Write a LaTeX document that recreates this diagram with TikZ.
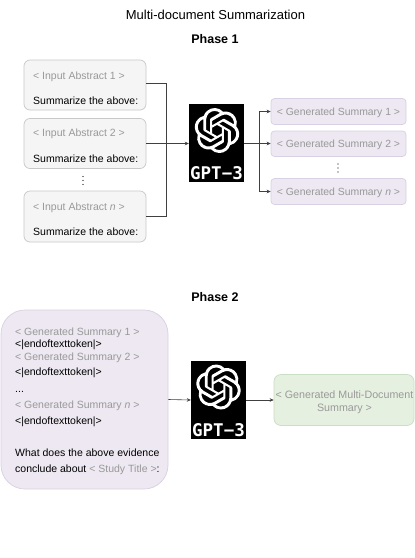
\documentclass[tikz,border=0pt]{standalone}
\usepackage{fontspec}
\setmainfont{Liberation Sans}
\newfontfamily\gptfont{DejaVu Sans Mono}
\usetikzlibrary{arrows.meta,calc,svg.path}
\definecolor{txtgrey}{HTML}{999999}
\definecolor{inputfill}{HTML}{F5F5F5}
\definecolor{inputdraw}{HTML}{C8C8C8}
\definecolor{purpfill}{HTML}{EDE8F1}
\definecolor{purpdraw}{HTML}{D9D0E3}
\definecolor{greenfill}{HTML}{E6F0E0}
\definecolor{greendraw}{HTML}{C9DEC2}
\tikzset{
  inbox/.style={draw=inputdraw,fill=inputfill,rounded corners=6pt,line width=0.7pt,inner sep=0pt},
  sumbox/.style={draw=purpdraw,fill=purpfill,rounded corners=3.5pt,line width=0.7pt,inner sep=0pt},
  bigbox/.style={draw=purpdraw,fill=purpfill,rounded corners=24pt,line width=0.7pt,inner sep=0pt},
  greenbox/.style={draw=greendraw,fill=greenfill,rounded corners=7pt,line width=0.7pt,inner sep=0pt},
  gptbox/.style={fill=black,inner sep=0pt},
  ltxt/.style={anchor=base west,inner sep=0pt,font=\fontsize{10.5}{12}\selectfont},
  gtxt/.style={ltxt,text=txtgrey},
  ctxt/.style={anchor=base,inner sep=0pt,text=txtgrey,font=\fontsize{10.4}{12}\selectfont},
  head/.style={anchor=base,inner sep=0pt,font=\bfseries\fontsize{12.5}{14}\selectfont},
  gpttxt/.style={anchor=base,inner sep=0pt,text=white,font=\gptfont\bfseries\fontsize{17.5}{18}\selectfont},
  conn/.style={draw=black!75,line width=0.6pt},
  arr/.style={conn,-{Stealth[length=4pt,width=3.6pt]}},
  gptlogo/.pic={
    \fill[white] svg {M 22.2819 9.8211 a 5.9847 5.9847 0 0 0 -0.5157 -4.9108 a 6.0462 6.0462 0 0 0 -6.5098 -2.9 A 6.0651 6.0651 0 0 0 4.9807 4.1818 a 5.9847 5.9847 0 0 0 -3.9977 2.9 a 6.0462 6.0462 0 0 0 0.7427 7.0966 a 5.98 5.98 0 0 0 0.511 4.9107 a 6.051 6.051 0 0 0 6.5146 2.9001 A 5.9847 5.9847 0 0 0 13.2599 24 a 6.0557 6.0557 0 0 0 5.7718 -4.2058 a 5.9894 5.9894 0 0 0 3.9977 -2.9001 a 6.0557 6.0557 0 0 0 -0.7475 -7.0729 z
    M 13.2599 22.4292 a 4.4755 4.4755 0 0 1 -2.8764 -1.0408 l 0.1419 -0.0804 l 4.7783 -2.7582 a 0.7948 0.7948 0 0 0 0.3927 -0.6813 v -6.7369 l 2.02 1.1686 l 0.038 0.052 v 5.5826 a 4.504 4.504 0 0 1 -4.4945 4.4944 z
    M 3.5992 18.3038 a 4.4708 4.4708 0 0 1 -0.5346 -3.0137 l 0.142 0.0852 l 4.783 2.7582 a 0.7712 0.7712 0 0 0 0.7806 0 l 5.8428 -3.3685 v 2.3324 l -0.0332 0.0615 L 9.74 19.9502 a 4.4992 4.4992 0 0 1 -6.1408 -1.6464 z
    M 2.3408 7.8956 a 4.485 4.485 0 0 1 2.3655 -1.9728 V 11.6 a 0.7664 0.7664 0 0 0 0.3879 0.6765 l 5.8144 3.3543 l -2.0201 1.1685 l -0.071 0 l -4.8303 -2.7865 A 4.504 4.504 0 0 1 2.3408 7.8956 z
    M 18.9371 11.7514 L 13.1038 8.364 L 15.1192 7.2 l 0.071 0 l 4.8303 2.7913 a 4.4944 4.4944 0 0 1 -0.6765 8.1042 v -5.6772 a 0.79 0.79 0 0 0 -0.407 -0.667 z
    M 20.9478 8.7283 l -0.142 -0.0852 l -4.7735 -2.7818 a 0.7759 0.7759 0 0 0 -0.7854 0 L 9.409 9.2297 V 6.8974 l 0.0284 -0.0615 l 4.8303 -2.7866 a 4.4992 4.4992 0 0 1 6.6802 4.66 z
    M 8.3065 12.863 l -2.02 -1.1638 l -0.038 -0.0567 V 6.0742 a 4.4992 4.4992 0 0 1 7.3757 -3.4537 l -0.142 0.0805 L 8.704 5.459 a 0.7948 0.7948 0 0 0 -0.3927 0.6813 z
    M 9.4041 10.4976 l 2.602 -1.4998 l 2.6069 1.4998 v 2.9994 l -2.5974 1.4997 l -2.6067 -1.4997 z};
  },
}
\begin{document}
\begin{tikzpicture}[x=1pt,y=-1pt]
\useasboundingbox (0,0) rectangle (415,558);
\fill[white] (0,0) rectangle (415,558);

\node[anchor=base,inner sep=0pt,font=\fontsize{13}{15}\selectfont] (title) at (215.5,19.5) {Multi-document Summarization};
\node[head] (ph1) at (215,43) {Phase 1};
\node[head] (ph2) at (215,301) {Phase 2};

% Input boxes
\node[inbox,minimum width=122pt,minimum height=50pt] (in1) at (85,85) {};
\node[inbox,minimum width=122pt,minimum height=50pt] (in2) at (85,143.5) {};
\node[inbox,minimum width=122pt,minimum height=51pt] (inn) at (85,216.5) {};
\node[gtxt] (in1a) at (33,79) {< Input Abstract 1 >};
\node[ltxt] (in1b) at (33,104) {Summarize the above:};
\node[gtxt] (in2a) at (33,136.5) {< Input Abstract 2 >};
\node[ltxt] (in2b) at (33,162) {Summarize the above:};
\node[gtxt] (inna) at (33,210) {< Input Abstract \textit{n} >};
\node[ltxt] (innb) at (33,235.5) {Summarize the above:};
\foreach \y in {176.5,180.5,184.5}{\fill (83,\y) circle[radius=0.7];}
\foreach \y in {164,168,172}{\fill (338,\y) circle[radius=0.7];}

% GPT boxes
\node[gptbox,minimum width=55pt,minimum height=78pt] (gpt1) at (216.5,143) {};
\node[gptbox,minimum width=55pt,minimum height=78pt] (gpt2) at (218.5,400) {};
\pic[xscale=1.875,yscale=-1.875] at (194.5,108) {gptlogo};
\pic[xscale=1.875,yscale=-1.875] at (196,364.5) {gptlogo};
\node[gpttxt] (g1) at (216.5,179.5) {GPT−3};
\node[gpttxt] (g2) at (218.5,436.5) {GPT−3};

% Summary boxes
\node[sumbox,minimum width=135pt,minimum height=26pt] (s1) at (338.5,111.5) {};
\node[sumbox,minimum width=135pt,minimum height=25.5pt] (s2) at (338.5,143.75) {};
\node[sumbox,minimum width=135pt,minimum height=26pt] (sn) at (338.5,191.5) {};
\node[ctxt] at (338.5,115.5) (s1t) {< Generated Summary 1 >};
\node[ctxt] at (338.5,147.5) (s2t) {< Generated Summary 2 >};
\node[ctxt] at (338.5,195.5) (snt) {< Generated Summary \textit{n} >};

% Phase 2
\node[bigbox,minimum width=167pt,minimum height=179pt] (big) at (84.5,399.5) {};
\node[gtxt] (b1) at (15,335) {< Generated Summary 1 >};
\node[ltxt] (b2) at (15,347.5) {<|endoftexttoken|>};
\node[gtxt] (b3) at (15,360) {< Generated Summary 2 >};
\node[ltxt] (b4) at (15,375) {<|endoftexttoken|>};
\node[ltxt] (b5) at (15,392) {...};
\node[gtxt] (b6) at (15,408) {< Generated Summary \textit{n} >};
\node[ltxt] (b7) at (15,424) {<|endoftexttoken|>};
\node[ltxt] (b8) at (15,456) {What does the above evidence};
\node[ltxt] (b9) at (15,472) {conclude about \textcolor{txtgrey}{< Study Title >}:};

\node[greenbox,minimum width=140pt,minimum height=51pt] (gr) at (344,400) {};
\node[ctxt,font=\fontsize{10.7}{12}\selectfont] (gr1) at (344.5,398) {< Generated Multi-Document};
\node[ctxt,font=\fontsize{10.7}{12}\selectfont] (gr2) at (344.5,411) {Summary >};

% Connectors
\coordinate (junc) at (166,143.5);
\coordinate (fork) at (259,143.5);
\draw[conn] (in1.east |- 0,83.5) -- (junc |- 0,83.5) -- (junc |- 0,216) -- (inn.east |- 0,216);
\draw[arr] (in2.east) -- (gpt1.west |- in2.east);
\draw[arr] (gpt1.east |- fork) -- (s2.west |- fork);
\draw[arr] (fork) -- (fork |- s1.west) -- (s1.west);
\draw[arr] (fork) -- (fork |- sn.west) -- (sn.west);
\draw[arr] (big.east) -- (gpt2.west);
\draw[arr] (gpt2.east) -- (gr.west);
\end{tikzpicture}
\end{document}
